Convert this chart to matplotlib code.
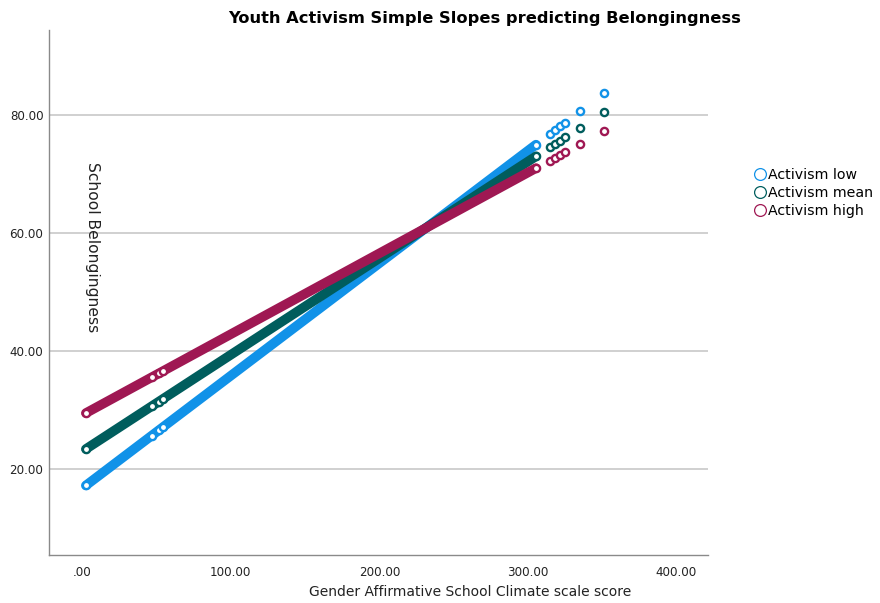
import matplotlib
matplotlib.use('Agg')
import matplotlib.pyplot as plt
from matplotlib.lines import Line2D

# Gender affirmative school climate scores where single cases stand out
climate_scores = [2.4, 46.8, 51.5, 54.2, 305.4, 314.8, 318.2, 321.5, 324.9, 335.0, 351.2]

# Predicted school belongingness at each score, by activism level
belong_low = [17.27, 25.73, 26.62, 27.14, 74.99, 76.78, 77.43, 78.06, 78.70, 80.63, 83.71]
belong_mean = [23.44, 30.71, 31.48, 31.92, 73.01, 74.55, 75.11, 75.65, 76.20, 77.86, 80.51]
belong_high = [29.53, 35.61, 36.25, 36.62, 71.01, 72.30, 72.76, 73.21, 73.68, 75.06, 77.28]

# Range of the densely packed cases (drawn as a solid band)
band_scores = [2.4, 305.4]
band_low = [17.27, 74.99]
band_mean = [23.44, 73.01]
band_high = [29.53, 71.01]

labels = ['Activism low', 'Activism mean', 'Activism high']
colors = ['#1192e8', '#005d5d', '#9f1853']

y_ticks = [20, 40, 60, 80]
x_ticks = [0, 100, 200, 300, 400]

fig = plt.figure(figsize=(8.8, 6.03), dpi=100)
ax = fig.add_axes([49 / 880, 48 / 603, 659 / 880, 525 / 603])

bands = [band_low, band_mean, band_high]
points = [belong_low, belong_mean, belong_high]
for i in range(3):
    ax.plot(band_scores, bands[i], color=colors[i], linewidth=6.9,
            solid_capstyle='round', zorder=3 + i)
    ax.plot(climate_scores, points[i], linestyle='none', marker='o',
            markersize=5.2, markeredgewidth=1.7, markerfacecolor='white',
            markeredgecolor=colors[i], zorder=3 + i)

ax.set_xlim(-22.4, 421.2)
ax.set_ylim(5.5, 94.4)
ax.set_xticks(x_ticks)
ax.set_yticks(y_ticks)
ax.set_xticklabels(['.00' if t == 0 else f'{t:.2f}' for t in x_ticks])
ax.set_yticklabels([f'{t:.2f}' for t in y_ticks])
ax.tick_params(axis='both', length=0, labelsize=8.6, colors='#222222')
ax.tick_params(axis='x', pad=8)
ax.tick_params(axis='y', pad=4)

ax.grid(axis='y', color='#c8c8c8', linewidth=1.2)
ax.set_axisbelow(True)
for side in ['top', 'right']:
    ax.spines[side].set_visible(False)
for side in ['left', 'bottom']:
    ax.spines[side].set_color('#8a8a8a')
    ax.spines[side].set_linewidth(1.0)

fig.text(470 / 880, 1 - 592 / 603, 'Gender Affirmative School Climate scale score',
         fontsize=10.0, color='#222222', ha='center', va='center')
fig.text(92 / 880, 1 - 247 / 603, 'School Belongingness', rotation=270,
         fontsize=11.2, color='#222222', ha='center', va='center')

fig.text(485 / 880, 1 - 18 / 603, 'Youth Activism Simple Slopes predicting Belongingness',
         fontsize=11.7, fontweight='bold', ha='center', va='center')

handles = [Line2D([], [], linestyle='none', marker='o', markersize=8.5,
                  markerfacecolor='white', markeredgecolor=c, markeredgewidth=0.9)
           for c in colors]
fig.legend(handles, labels, loc='center left', bbox_to_anchor=(755 / 880, 1 - 193 / 603),
           frameon=False, fontsize=10.2, handlelength=0.7, handletextpad=0.25,
           labelspacing=0.3, borderpad=0, borderaxespad=0)

fig.savefig('out.png', dpi=100)
